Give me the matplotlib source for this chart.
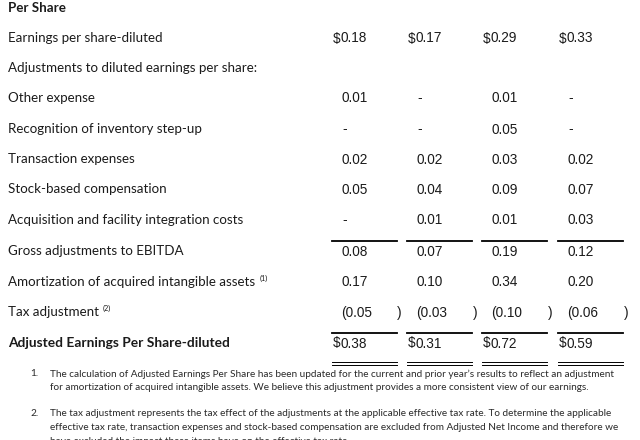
import matplotlib.pyplot as plt

plt.rcParams['font.family'] = ['Lato', 'DejaVu Sans']

# row labels of the per share reconciliation
row_labels = [
    'Earnings per share-diluted',
    'Adjustments to diluted earnings per share:',
    'Other expense',
    'Recognition of inventory step-up',
    'Transaction expenses',
    'Stock-based compensation',
    'Acquisition and facility integration costs',
    'Gross adjustments to EBITDA',
    'Amortization of acquired intangible assets',
    'Tax adjustment',
    'Adjusted Earnings Per Share-diluted',
]
label_notes = ['', '', '', '', '', '', '', '', '(1)', '(2)', '']

# values per column (None = no value, '-' = dash)
col_1 = [0.18, None, 0.01, '-', 0.02, 0.05, '-', 0.08, 0.17, -0.05, 0.38]
col_2 = [0.17, None, '-', '-', 0.02, 0.04, 0.01, 0.07, 0.10, -0.03, 0.31]
col_3 = [0.29, None, 0.01, 0.05, 0.03, 0.09, 0.01, 0.19, 0.34, -0.10, 0.72]
col_4 = [0.33, None, '-', '-', 0.02, 0.07, 0.03, 0.12, 0.20, -0.06, 0.59]
dollar_rows = [0, 10]
bold_rows = [10]

footnotes = [
    ['The calculation of Adjusted Earnings Per Share has been updated for the current and prior year\u2019s results to reflect an adjustment',
     'for amortization of acquired intangible assets. We believe this adjustment provides a more consistent view of our earnings.'],
    ['The tax adjustment represents the tax effect of the adjustments at the applicable effective tax rate. To determine the applicable',
     'effective tax rate, transaction expenses and stock-based compensation are excluded from Adjusted Net Income and therefore we',
     'have excluded the impact these items have on the effective tax rate.'],
]

fig = plt.figure(figsize=(6.4, 4.4), dpi=100)
ax = fig.add_axes([0, 0, 1, 1])
ax.set_xlim(0, 640)
ax.set_ylim(440, 0)
ax.axis('off')

txt = '#1b1b1b'
fs = 9.6
nfs = 9.8
num_font = ['Liberation Sans', 'DejaVu Sans']

ax.text(8, 7, 'Per Share', fontsize=fs, fontweight='bold', color=txt,
        va='center_baseline')

row_y = [37, 67, 97, 128, 158, 188, 219, 250, 281, 311, 342]
col_x = [333, 408, 483, 559]
paren_x = [397, 473, 548, 624]

for i, lab in enumerate(row_labels):
    if i in bold_rows:
        t = ax.text(8, row_y[i], lab, fontsize=9.9, fontweight='bold',
                    color=txt, va='center_baseline')
    else:
        t = ax.text(8, row_y[i], lab, fontsize=fs, color=txt,
                    va='center_baseline')
    if label_notes[i]:
        fig.canvas.draw()
        bb = t.get_window_extent()
        ax.text(bb.x1 + 4, row_y[i] - 3, label_notes[i], fontsize=5.2,
                color=txt, va='center_baseline')

for c, vals in enumerate([col_1, col_2, col_3, col_4]):
    x0 = col_x[c]
    for i, v in enumerate(vals):
        if v is None:
            continue
        y = row_y[i]
        if v == '-':
            ax.text(x0 + 9, y, '-', fontsize=nfs, color=txt,
                    family=num_font, va='center_baseline')
        elif i in dollar_rows:
            ax.text(x0, y, '$', fontsize=nfs, color=txt, family=num_font,
                    va='center_baseline')
            ax.text(x0 + 7.5, y, f'{v:.2f}', fontsize=nfs, color=txt,
                    family=num_font, va='center_baseline')
        elif v < 0:
            ax.text(x0 + 8.5, y, f'({-v:.2f}', fontsize=nfs, color=txt,
                    family=num_font, va='center_baseline')
            ax.text(paren_x[c], y, ')', fontsize=nfs, color=txt,
                    family=num_font, va='center_baseline')
        else:
            ax.text(x0 + 8.5, y, f'{v:.2f}', fontsize=nfs, color=txt,
                    family=num_font, va='center_baseline')
    # underlines
    x1 = x0 + 64
    ax.plot([x0 - 1, x1], [241, 241], color='black', lw=1.3)
    ax.plot([x0 - 1, x1], [333, 333], color='black', lw=1.3)
    ax.plot([x0 - 1, x1], [362.5, 362.5], color='black', lw=0.7)
    ax.plot([x0 - 1, x1], [365.5, 365.5], color='black', lw=0.7)

note_y = [[373, 387], [413, 427, 441]]
note_fs = 7.22
for n, lines in enumerate(footnotes):
    ax.text(30, note_y[n][0], f'{n + 1}.', fontsize=note_fs, color='#2a2a2a',
            va='center_baseline')
    for k, line in enumerate(lines):
        ax.text(50, note_y[n][k], line, fontsize=note_fs, color='#2a2a2a',
                va='center_baseline')

fig.savefig('out.png', dpi=100)
